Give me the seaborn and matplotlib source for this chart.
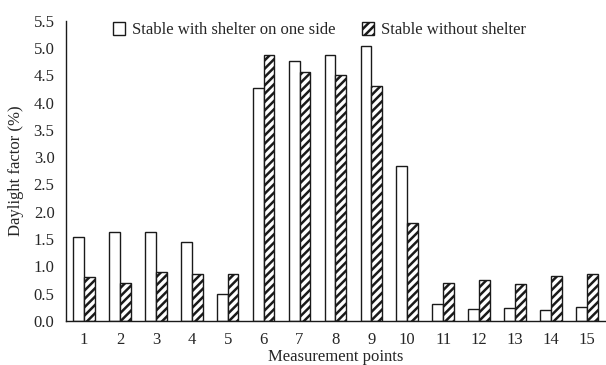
import matplotlib
matplotlib.use("Agg")
import matplotlib.pyplot as plt
from matplotlib.patches import Patch
from matplotlib.ticker import FixedLocator
import seaborn as sns
import pandas as pd
import numpy as np

# Data
points = [str(i) for i in range(1, 16)]
with_shelter = [1.54, 1.62, 1.63, 1.44, 0.50, 4.26, 4.77, 4.87, 5.04, 2.84,
                0.30, 0.21, 0.24, 0.20, 0.25]
without_shelter = [0.81, 0.69, 0.90, 0.85, 0.85, 4.87, 4.57, 4.50, 4.31, 1.79,
                   0.69, 0.75, 0.67, 0.82, 0.86]
series_names = ["Stable with shelter on one side", "Stable without shelter"]
y_ticks = [0.0, 0.5, 1.0, 1.5, 2.0, 2.5, 3.0, 3.5, 4.0, 4.5, 5.0, 5.5]

df = pd.DataFrame({
    "point": points * 2,
    "value": with_shelter + without_shelter,
    "series": [series_names[0]] * len(points) + [series_names[1]] * len(points),
})

sns.set_style("white")
plt.rcParams["font.family"] = ["Liberation Serif", "DejaVu Serif"]
plt.rcParams["hatch.linewidth"] = 1.8

fig = plt.figure(figsize=(6.06, 3.65), dpi=100)
ax = fig.add_axes([0.109, 0.121, 0.889, 0.822])

sns.barplot(data=df, x="point", y="value", hue="series", order=points,
            hue_order=series_names, width=0.6, ax=ax, legend=False,
            palette=["white", "white"], saturation=1)

for i, cont in enumerate(ax.containers):
    for bar in cont:
        bar.set_facecolor("white")
        bar.set_edgecolor("#1a1a1a")
        bar.set_linewidth(1.0)
        if i == 1:
            bar.set_hatch("////")

ax.set_ylim(0, 5.5)
ax.set_xlim(-0.5, len(points) - 0.5)
ax.set_yticks(y_ticks)
ax.set_yticklabels([f"{t:.1f}" for t in y_ticks])
ax.tick_params(axis="y", direction="out", length=4.3, width=1, labelsize=12, pad=4)
ax.tick_params(axis="x", which="major", length=0, labelsize=12, pad=8)
ax.xaxis.set_minor_locator(FixedLocator(np.arange(-0.5, len(points), 1.0)))
ax.tick_params(axis="x", which="minor", direction="out", length=4, width=1)

for side in ["top", "right"]:
    ax.spines[side].set_visible(False)
for side in ["left", "bottom"]:
    ax.spines[side].set_color("#1a1a1a")
    ax.spines[side].set_linewidth(1.0)

ax.set_xlabel("Measurement points", fontsize=12, labelpad=1)
ax.set_ylabel("Daylight factor (%)", fontsize=12, labelpad=7)

handles = [Patch(facecolor="white", edgecolor="#1a1a1a", linewidth=1.0),
           Patch(facecolor="white", edgecolor="#1a1a1a", linewidth=1.0, hatch="////")]
ax.legend(handles, series_names, loc="upper center", bbox_to_anchor=(0.47, 1.045),
          ncol=2, frameon=False, fontsize=12, handlelength=0.75, handleheight=0.75,
          handletextpad=0.4, columnspacing=1.6)

fig.savefig("out.png", dpi=100)
